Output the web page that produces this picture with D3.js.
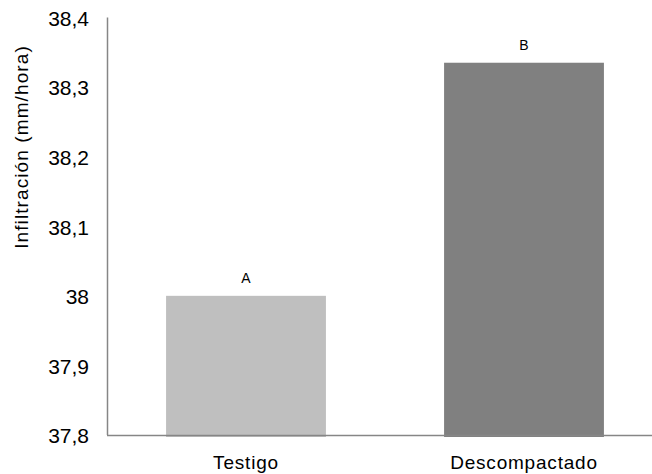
<!DOCTYPE html>
<html><head><meta charset="utf-8">
<script src="https://cdn.jsdelivr.net/npm/d3@7"></script>
<style>body{margin:0;background:#fff}svg{display:block;font-family:"Liberation Sans",Arial,sans-serif}</style>
</head><body>
<svg id="c" width="652" height="474"></svg>
<script>
const categories = ["Testigo", "Descompactado"];
const values = [38.0, 38.335];
const letters = ["A", "B"];
const barColors = ["#BFBFBF", "#808080"];
const yTicks = [37.8, 37.9, 38.0, 38.1, 38.2, 38.3, 38.4];
const yLabel = "Infiltración (mm/hora)";

const svg = d3.select("#c");
const y = d3.scaleLinear().domain([37.8, 38.4]).range([435, 17.5]);
const x = d3.scaleBand().domain(categories).range([107, 663]).paddingInner(0.425).paddingOuter(0.2125);
const fmt = v => d3.format(".1f")(v).replace(".0", "").replace(".", ",");

// bars
svg.selectAll("rect.bar").data(values).enter().append("rect")
  .attr("x", (d,i) => x(categories[i]))
  .attr("width", x.bandwidth())
  .attr("y", d => y(d))
  .attr("height", d => y(37.8) - y(d) + 2)
  .attr("fill", (d,i) => barColors[i]);

// axes lines
svg.append("line").attr("x1", 107.5).attr("x2", 107.5).attr("y1", y(38.4)).attr("y2", y(37.8))
  .attr("stroke", "#868686").attr("stroke-width", 1.5);
svg.append("line").attr("x1", 107).attr("x2", 652).attr("y1", y(37.8)+0.5).attr("y2", y(37.8)+0.5)
  .attr("stroke", "#868686").attr("stroke-width", 1.5);

// y tick labels
svg.selectAll("text.yt").data(yTicks).enter().append("text")
  .attr("x", 89).attr("y", d => y(d)).attr("dy", "0.4em")
  .attr("text-anchor", "end").attr("font-size", 21).attr("fill", "#000")
  .text(fmt);

// x labels
svg.selectAll("text.xt").data(categories).enter().append("text")
  .attr("x", d => x(d) + x.bandwidth()/2).attr("y", 468.5)
  .attr("text-anchor", "middle").attr("font-size", 19).attr("letter-spacing", 0.8).attr("fill", "#000")
  .text(d => d);

// letters
svg.selectAll("text.lt").data(values).enter().append("text")
  .attr("x", (d,i) => x(categories[i]) + x.bandwidth()/2).attr("y", d => y(d) - 13)
  .attr("text-anchor", "middle").attr("font-size", 14).attr("fill", "#000")
  .text((d,i) => letters[i]);

// y title
svg.append("text").attr("transform", "translate(27.5,147) rotate(-90)")
  .attr("text-anchor", "middle").attr("font-size", 19).attr("letter-spacing", 1.1).attr("fill", "#000")
  .text(yLabel);
</script>
</body></html>
